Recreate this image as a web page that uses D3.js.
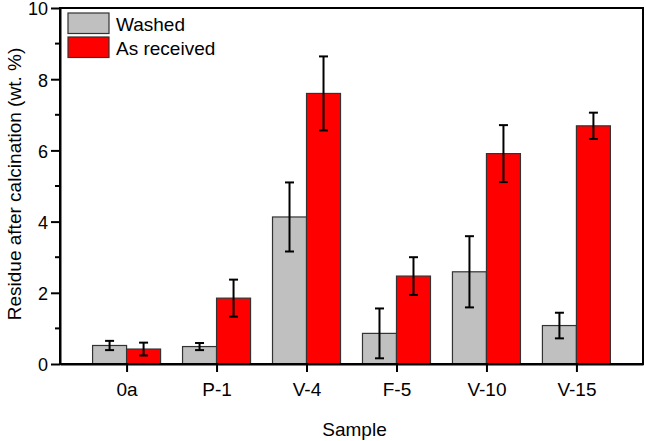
<!DOCTYPE html>
<html>
<head>
<meta charset="utf-8">
<script src="https://cdn.jsdelivr.net/npm/d3@7"></script>
<style>
  body { margin: 0; background: #fff; }
  svg { font-family: "Liberation Sans", Arial, sans-serif; }
</style>
</head>
<body>
<div id="chart"></div>
<script>
const samples = ["0a", "P-1", "V-4", "F-5", "V-10", "V-15"];
const seriesNames = ["Washed", "As received"];
const washed = [0.52, 0.49, 4.13, 0.86, 2.59, 1.08];
const washedErr = [0.13, 0.1, 0.97, 0.7, 1.0, 0.36];
const received = [0.42, 1.85, 7.6, 2.47, 5.91, 6.69];
const receivedErr = [0.18, 0.52, 1.04, 0.53, 0.8, 0.37];
const yTicks = [0, 2, 4, 6, 8, 10];
const yMinorTicks = [1, 3, 5, 7, 9];

const width = 646;
const height = 441;
const margin = { top: 8, right: 3, bottom: 77, left: 60 };
const barW = 34;
const colors = ["#c0c0c0", "#ff0000"];

const x = d3
  .scalePoint()
  .domain(samples)
  .range([margin.left, width - margin.right])
  .padding(0.74);
const y = d3
  .scaleLinear()
  .domain([0, 10])
  .range([height - margin.bottom, margin.top]);

const svg = d3
  .select("#chart")
  .append("svg")
  .attr("width", width)
  .attr("height", height);

const series = [
  { name: seriesNames[0], values: washed, errs: washedErr, color: colors[0], off: -1 },
  { name: seriesNames[1], values: received, errs: receivedErr, color: colors[1], off: 0 },
];

// bars
series.forEach((s) => {
  const g = svg.append("g");
  g.selectAll("rect")
    .data(samples)
    .join("rect")
    .attr("x", (d) => x(d) + s.off * barW)
    .attr("y", (d, i) => y(s.values[i]))
    .attr("width", barW)
    .attr("height", (d, i) => y(0) - y(s.values[i]))
    .attr("fill", s.color)
    .attr("stroke", "#333")
    .attr("stroke-width", 1.2);

  // error bars
  const e = g.selectAll(".err")
    .data(samples)
    .join("g")
    .attr("class", "err")
    .attr("stroke", "#000")
    .attr("stroke-width", 2);
  const cx = (d) => x(d) + s.off * barW + barW / 2;
  e.append("line")
    .attr("x1", cx).attr("x2", cx)
    .attr("y1", (d, i) => y(s.values[i] + s.errs[i]))
    .attr("y2", (d, i) => y(s.values[i] - s.errs[i]));
  [1, -1].forEach((sign) => {
    e.append("line")
      .attr("x1", (d) => cx(d) - 4.5)
      .attr("x2", (d) => cx(d) + 4.5)
      .attr("y1", (d, i) => y(s.values[i] + sign * s.errs[i]))
      .attr("y2", (d, i) => y(s.values[i] + sign * s.errs[i]));
  });
});

// frame
svg.append("rect")
  .attr("x", margin.left)
  .attr("y", margin.top)
  .attr("width", width - margin.right - margin.left)
  .attr("height", y(0) - margin.top)
  .attr("fill", "none")
  .attr("stroke", "#000")
  .attr("stroke-width", 2);

// y axis
const yAxisG = svg.append("g")
  .attr("transform", `translate(${margin.left},0)`)
  .call(d3.axisLeft(y).tickValues(yTicks).tickSize(9).tickSizeOuter(0).tickPadding(3));
yAxisG.select(".domain").attr("stroke-width", 2);
yAxisG.selectAll(".tick line").attr("stroke-width", 2);
yAxisG.selectAll(".tick text").attr("font-size", 18).attr("fill", "#000")
  .attr("dy", "0.38em")
  .attr("font-family", "Liberation Sans, Arial, sans-serif");
yAxisG.selectAll(".minor")
  .data(yMinorTicks)
  .join("line")
  .attr("class", "minor")
  .attr("x1", -5).attr("x2", 0)
  .attr("y1", (d) => y(d)).attr("y2", (d) => y(d))
  .attr("stroke", "#000")
  .attr("stroke-width", 2);

// x axis
const xAxisG = svg.append("g")
  .attr("transform", `translate(0,${y(0)})`)
  .call(d3.axisBottom(x).tickSize(8).tickSizeOuter(0).tickPadding(11));
xAxisG.select(".domain").attr("stroke-width", 2);
xAxisG.selectAll(".tick line").attr("stroke-width", 2);
xAxisG.selectAll(".tick text").attr("font-size", 19).attr("fill", "#000")
  .attr("font-family", "Liberation Sans, Arial, sans-serif");

// axis titles
svg.append("text")
  .attr("x", (margin.left + width - margin.right) / 2 + 3)
  .attr("y", 436)
  .attr("text-anchor", "middle")
  .attr("font-size", 19)
  .text("Sample");

svg.append("text")
  .attr("transform", `translate(21,${(margin.top + y(0)) / 2 - 2})rotate(-90)`)
  .attr("text-anchor", "middle")
  .attr("font-size", 19)
  .text("Residue after calcination (wt. %)");

// legend
const legend = svg.append("g").attr("transform", "translate(68,13)");
series.forEach((s, i) => {
  const row = legend.append("g").attr("transform", `translate(0,${i * 24})`);
  row.append("rect")
    .attr("width", 41)
    .attr("height", 20.5)
    .attr("fill", s.color)
    .attr("stroke", "#333")
    .attr("stroke-width", 1.2);
  row.append("text")
    .attr("x", 48)
    .attr("y", 17.5)
    .attr("font-size", 19)
    .text(s.name);
});
</script>
</body>
</html>
